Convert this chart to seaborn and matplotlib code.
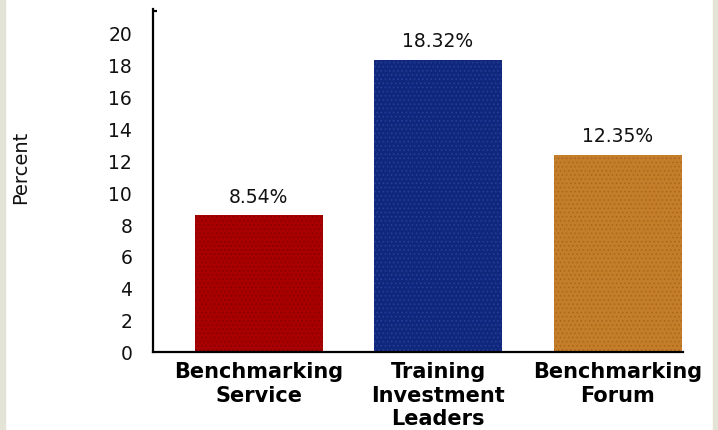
import matplotlib
matplotlib.use("Agg")
import matplotlib.pyplot as plt
from matplotlib.patches import Rectangle
import seaborn as sns

# Data
categories = ["Benchmarking\nService", "Training\nInvestment\nLeaders", "Benchmarking\nForum"]
percent = [8.54, 18.32, 12.35]
bar_labels = ["8.54%", "18.32%", "12.35%"]
yticks = [0, 2, 4, 6, 8, 10, 12, 14, 16, 18, 20]

bar_colors = ["#a80000", "#10287c", "#c47e2a"]
dot_colors = ["#860000", "#2a3da0", "#a8661e"]

sns.set_style("white")
plt.rcParams['font.family'] = ['DejaVu Sans']
plt.rcParams['hatch.linewidth'] = 0.6

fig = plt.figure(figsize=(7.18, 4.31), dpi=100)
ax = fig.add_axes([0.2131, 0.1821, 0.7382, 0.7947])

sns.barplot(x=categories, y=percent, hue=categories, palette=bar_colors,
            legend=False, width=0.713, ax=ax, saturation=1)

for patch, dc in zip(ax.patches, dot_colors):
    patch.set_hatch("....")
    patch.set_edgecolor(dc)
    patch.set_linewidth(0)

for container, lab in zip(ax.containers, bar_labels):
    ax.bar_label(container, labels=[lab], padding=7, fontsize=13.5, color="#111111")

ax.set_xlim(-0.588, 2.365)
ax.set_ylim(0, 21.5)
ax.set_yticks(yticks)
ax.tick_params(axis="y", length=0, pad=15, labelsize=13.5, labelcolor="#111111")
ax.tick_params(axis="x", length=0, pad=7)
for t in ax.get_xticklabels():
    t.set_fontsize(15)
    t.set_fontweight("bold")
    t.set_linespacing(1.22)
    t.set_verticalalignment("top")
    t.set_color("black")

ax.set_ylabel("Percent", fontsize=14, color="#111111")
ax.yaxis.set_label_coords(-0.232, 0.5416)
ax.set_xlabel("")

for side in ["top", "right"]:
    ax.spines[side].set_visible(False)
for side in ["left", "bottom"]:
    ax.spines[side].set_color("black")
    ax.spines[side].set_linewidth(1.6)

# small hook at the top of the y axis
ax.set_yticks([21.4], minor=True)
ax.tick_params(axis="y", which="minor", left=True, direction="in", length=3,
               width=1.6, color="black", labelleft=False)

# light side strips of the original frame
fig.patches.append(Rectangle((0, 0), 5 / 718, 1, transform=fig.transFigure,
                             color="#e3e4d6", zorder=0))
fig.patches.append(Rectangle((713 / 718, 0), 5 / 718, 1, transform=fig.transFigure,
                             color="#e3e4d6", zorder=0))

fig.savefig("out.png", dpi=100)
